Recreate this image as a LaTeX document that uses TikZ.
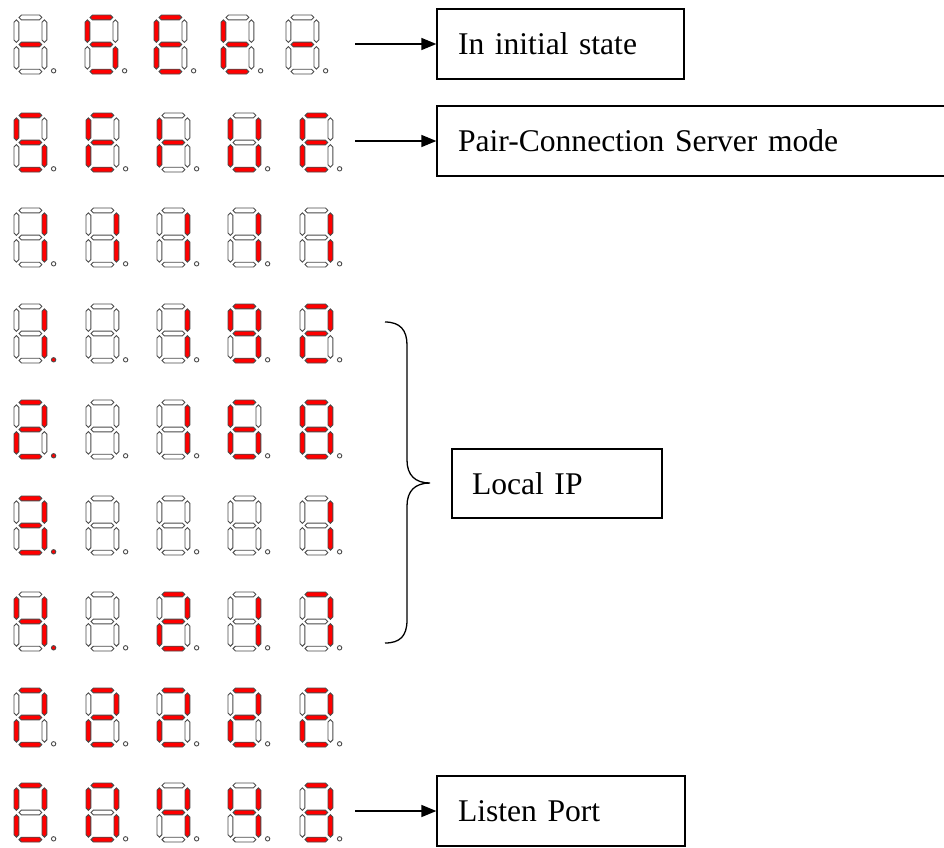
\documentclass[tikz,border=0pt]{standalone}
\usepackage{fontspec}
\setmainfont{Liberation Serif}
\usetikzlibrary{arrows.meta}

\definecolor{segon}{RGB}{255,0,0}
\definecolor{segoff}{RGB}{255,255,255}
\definecolor{segedge}{RGB}{75,75,75}

% flag (0/1) -> fill colour of a segment
\newcommand\setsegcolor[2]{\ifnum#2=1 \def#1{segon}\else\def#1{segoff}\fi}
% eight flags: a b c d e f g dp
\def\readsegs#1#2#3#4#5#6#7#8\relax{%
  \setsegcolor\sgA{#1}\setsegcolor\sgB{#2}\setsegcolor\sgC{#3}%
  \setsegcolor\sgD{#4}\setsegcolor\sgE{#5}\setsegcolor\sgF{#6}%
  \setsegcolor\sgG{#7}\setsegcolor\sgP{#8}}

% horizontal segment: centre line y, colour
\newcommand\hseg[2]{\filldraw[segline,fill=#2] (5,#1) -- (7.4,{#1-2.4}) -- (25.4,{#1-2.4}) -- (27.8,#1) -- (25.4,{#1+2.4}) -- (7.4,{#1+2.4}) -- cycle;}
% vertical segment: centre x, top, bottom, colour
\newcommand\vseg[4]{\filldraw[segline,fill=#4] (#1,#2) -- ({#1+2.4},{#2+2.4}) -- ({#1+2.4},{#3-2.4}) -- (#1,#3) -- ({#1-2.4},{#3-2.4}) -- ({#1-2.4},{#2+2.4}) -- cycle;}

% one seven-segment digit with decimal point, top-left corner at #1
\newcommand\sevenseg[2]{%
  \expandafter\readsegs#2\relax
  \begin{scope}[shift={#1}]
    \hseg{2.4}{\sgA}
    \vseg{30.4}{4.8}{27.4}{\sgB}
    \vseg{30.4}{31.6}{54.2}{\sgC}
    \hseg{56.6}{\sgD}
    \vseg{2.4}{31.6}{54.2}{\sgE}
    \vseg{2.4}{4.8}{27.4}{\sgF}
    \hseg{29.5}{\sgG}
    \filldraw[segline,fill=\sgP] (39.6,55.8) circle[radius=2.2pt];
  \end{scope}}

% a row of five digits at the standard column positions
\newcommand\segrow[6]{%
  \sevenseg{(14,#1)}{#2}\sevenseg{(86,#1)}{#3}\sevenseg{(157,#1)}{#4}%
  \sevenseg{(228,#1)}{#5}\sevenseg{(300,#1)}{#6}}

% segment patterns a..g
\def\dBlank{0000000}
\def\dOne{0110000}
\def\dTwo{1101101}
\def\dThree{1111001}
\def\dFour{0110011}
\def\dSix{1011111}
\def\dSeven{1110000}
\def\dEight{1111111}
\def\dNine{1111011}
\def\dZero{1111110}
\def\dMinus{0000001}
\def\dS{1011011}
\def\dE{1001111}
\def\dt{0001111}
\def\dr{0000111}
\def\dU{0111110}

\tikzset{
  segline/.style={draw=segedge, line width=0.9pt},
  labelbox/.style={draw=black, line width=1.3pt, minimum height=70pt,
    inner xsep=21pt, inner ysep=0pt, align=left,
    font=\fontsize{31.6}{38}\selectfont},
  pointer/.style={line width=1.5pt, -{Triangle[length=15pt,width=12pt]}},
}

\begin{document}
\begin{tikzpicture}[x=1pt,y=-1pt]
\useasboundingbox (0,0) rectangle (944,847);
\clip (0,0) rectangle (944,847);

% display readings
\sevenseg{(14,15)}{\dMinus0}
\sevenseg{(85,15)}{\dS0}
\sevenseg{(154,15)}{\dE0}
\sevenseg{(221,15)}{\dt0}
\sevenseg{(286,15)}{\dMinus0}

\segrow{113}{\dS0}{\dE0}{\dr0}{\dU0}{\dE0}
\segrow{208}{\dOne0}{\dOne0}{\dOne0}{\dOne0}{\dOne0}
\segrow{304}{\dOne1}{\dBlank0}{\dOne0}{\dNine0}{\dTwo0}
\segrow{400}{\dTwo1}{\dBlank0}{\dOne0}{\dSix0}{\dEight0}
\segrow{496}{\dThree1}{\dBlank0}{\dBlank0}{\dBlank0}{\dOne0}
\segrow{592}{\dFour1}{\dBlank0}{\dTwo0}{\dOne0}{\dSeven0}
\segrow{688}{\dTwo0}{\dTwo0}{\dTwo0}{\dTwo0}{\dTwo0}
\segrow{783}{\dZero0}{\dZero0}{\dFour0}{\dFour0}{\dThree0}

% labels
\node[labelbox, minimum width=247pt, text width=205pt] (init) at (560.5,44) {In initial state};
\node[labelbox, minimum width=523pt, text width=481pt] (pcs) at (698.5,141) {Pair-Connection Server mode};
\node[labelbox, minimum width=210pt, minimum height=69pt, inner xsep=20pt, text width=170pt] (lip) at (557,483.5) {Local IP};
\node[labelbox, minimum width=248pt, text width=206pt] (lport) at (561,811) {Listen Port};

% pointers
\coordinate (p1) at (355,44);
\coordinate (p2) at (355,141);
\coordinate (p9) at (355,811);
\draw[pointer] (p1) -- (init.west);
\draw[pointer] (p2) -- (pcs.west);
\draw[pointer] (p9) -- (lport.west);

% brace grouping the address rows
\draw[line width=1.3pt] (385,322) .. controls (400,322) and (407,330) .. (407,345)
  -- (407,460) .. controls (407,475) and (415,483) .. (430,483)
  .. controls (415,483) and (407,491) .. (407,506)
  -- (407,620) .. controls (407,636) and (400,643) .. (385,643);
\end{tikzpicture}
\end{document}
